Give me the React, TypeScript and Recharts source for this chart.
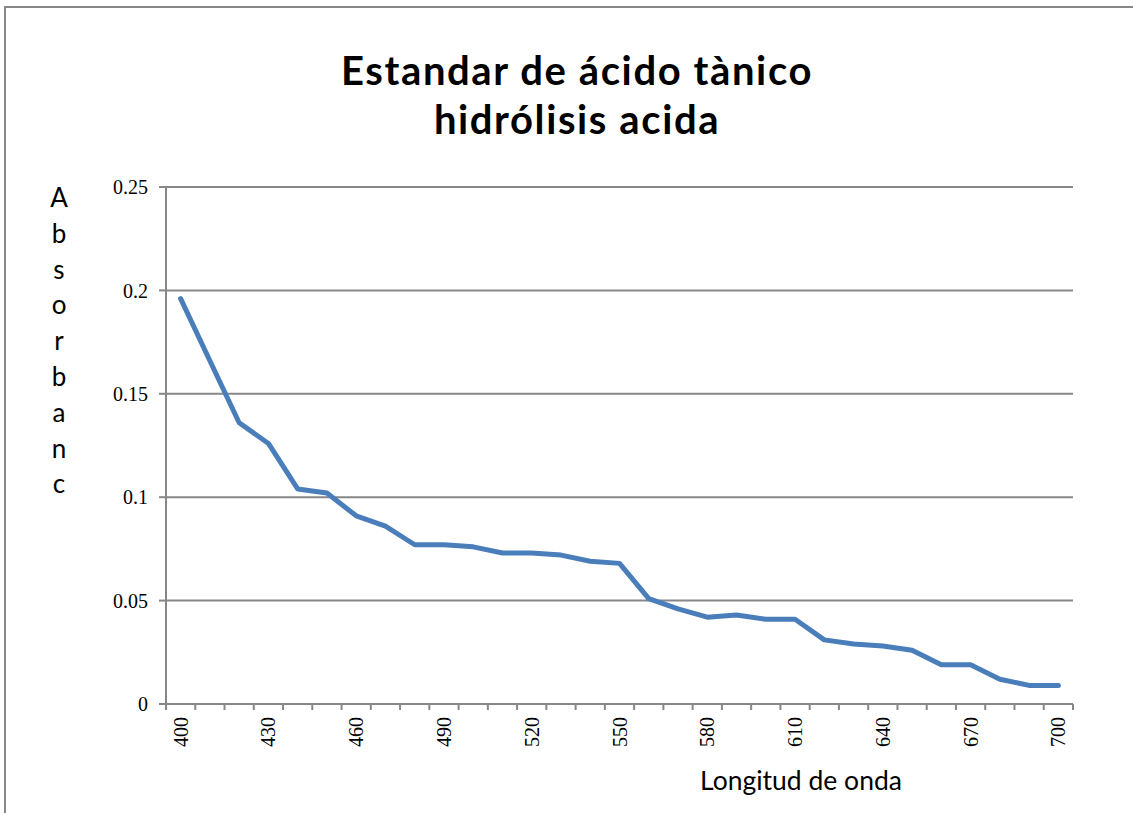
import { LineChart, Line, XAxis, YAxis, CartesianGrid } from "recharts";

const wavelengths = [
  400, 410, 420, 430, 440, 450, 460, 470, 480, 490, 500, 510, 520, 530, 540, 550,
  560, 570, 580, 590, 600, 610, 620, 630, 640, 650, 660, 670, 680, 690, 700,
];
const absorbance = [
  0.196, 0.166, 0.136, 0.126, 0.104, 0.102, 0.091, 0.086, 0.077, 0.077, 0.076,
  0.073, 0.073, 0.072, 0.069, 0.068, 0.051, 0.046, 0.042, 0.043, 0.041, 0.041,
  0.031, 0.029, 0.028, 0.026, 0.019, 0.019, 0.012, 0.009, 0.009,
];
const yTicks = [0, 0.05, 0.1, 0.15, 0.2, 0.25];
const titleLines = ["Estandar de ácido tànico", "hidrólisis acida"];
const yTitleLetters = ["A", "b", "s", "o", "r", "b", "a", "n", "c"];
const xTitle = "Longitud de onda";

const data = wavelengths.map((nm, i) => ({ nm, abs: absorbance[i] }));

const W = 1133;
const H = 813;
const margin = { top: 187, right: 60, left: 0, bottom: 0 };
const yAxisWidth = 166;
const xAxisHeight = 109;
const plotW = W - margin.right - margin.left - yAxisWidth;
const halfBand = plotW / wavelengths.length / 2;
const gray = "#878787";
const serif = "'Liberation Serif', 'Times New Roman', serif";
const sans = "Lato, 'Open Sans', sans-serif";

const TICK_SIZE = 8;
const TICK_MARGIN = 5;

// tick marks sit on the band edges, labels every third category
const XTick = (props: any) => {
  const { x, y, payload, index } = props;
  const axisY = y - TICK_SIZE - TICK_MARGIN;
  const last = index === wavelengths.length - 1;
  return (
    <g>
      <line x1={x - halfBand} x2={x - halfBand} y1={axisY} y2={axisY + 6} stroke={gray} strokeWidth={2} />
      {last && (
        <line x1={x + halfBand} x2={x + halfBand} y1={axisY} y2={axisY + 6} stroke={gray} strokeWidth={2} />
      )}
      {index % 3 === 0 && (
        <text
          x={x}
          y={y}
          transform={`rotate(-90 ${x} ${y})`}
          textAnchor="end"
          dy="0.35em"
          fontFamily={serif}
          fontSize={20}
          fill="#000"
        >
          {payload.value}
        </text>
      )}
    </g>
  );
};

const App = () => {
  return (
    <div
      style={{
        position: "absolute",
        left: 0,
        top: 0,
        width: W,
        height: H,
        overflow: "hidden",
        background: "#fff",
      }}
    >
      <LineChart width={W} height={H} data={data} margin={margin}>
        <CartesianGrid vertical={false} stroke={gray} strokeWidth={2} />
        <XAxis
          dataKey="nm"
          interval={0}
          height={xAxisHeight}
          padding={{ left: halfBand, right: halfBand }}
          axisLine={{ stroke: gray, strokeWidth: 2 }}
          tickLine={false}
          tickSize={TICK_SIZE}
          tickMargin={TICK_MARGIN}
          tick={<XTick />}
        />
        <YAxis
          width={yAxisWidth}
          domain={[0, 0.25]}
          ticks={yTicks}
          interval={0}
          axisLine={{ stroke: gray, strokeWidth: 2 }}
          tickLine={{ stroke: gray, strokeWidth: 2 }}
          tickSize={7}
          tickMargin={11}
          tick={{ fontFamily: serif, fontSize: 20, fill: "#000" }}
        />
        <Line
          dataKey="abs"
          type="linear"
          stroke="#4A7EBB"
          strokeWidth={5}
          strokeLinejoin="round"
          strokeLinecap="round"
          dot={false}
          isAnimationActive={false}
        />
      </LineChart>
      <svg
        width={W}
        height={H}
        style={{ position: "absolute", left: 0, top: 0, pointerEvents: "none" }}
      >
        <rect x={5} y={7} width={1200} height={900} fill="none" stroke={gray} strokeWidth={2} />
        {titleLines.map((t, i) => (
          <text
            key={t}
            x={577}
            y={85 + i * 49}
            textAnchor="middle"
            fontFamily={sans}
            fontWeight="bold"
            fontSize={40}
            letterSpacing={1.6}
            fill="#000"
          >
            {t}
          </text>
        ))}
        {yTitleLetters.map((c, i) => (
          <text
            key={i}
            x={59}
            y={207 + i * 35.8}
            textAnchor="middle"
            fontFamily={sans}
            fontSize={26}
            fill="#000"
          >
            {c}
          </text>
        ))}
        <text x={700} y={790} fontFamily={sans} fontSize={26.5} fill="#000">
          {xTitle}
        </text>
      </svg>
    </div>
  );
};

export default App;
